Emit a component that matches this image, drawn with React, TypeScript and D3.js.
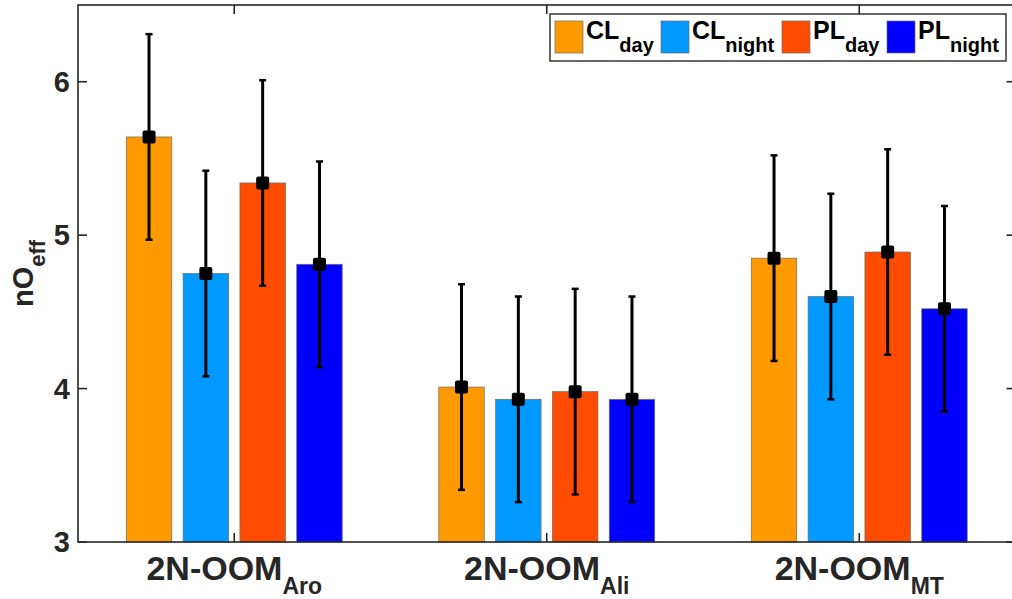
import React from "react";
import * as d3 from "d3";

const categories = ["Aro", "Ali", "MT"];
const seriesNames = [
  { main: "CL", sub: "day" },
  { main: "CL", sub: "night" },
  { main: "PL", sub: "day" },
  { main: "PL", sub: "night" },
];
const seriesColors = ["#FF9900", "#0099FF", "#FF4C00", "#0000FF"];
// means per series across categories
const clDay = [5.64, 4.01, 4.85];
const clNight = [4.75, 3.93, 4.60];
const plDay = [5.34, 3.98, 4.89];
const plNight = [4.81, 3.93, 4.52];
// error half-widths
const clDayErr = [0.67, 0.67, 0.67];
const clNightErr = [0.67, 0.67, 0.67];
const plDayErr = [0.67, 0.67, 0.67];
const plNightErr = [0.67, 0.67, 0.67];
const yTicks = [3, 4, 5, 6];

const means = [clDay, clNight, plDay, plNight];
const errs = [clDayErr, clNightErr, plDayErr, plNightErr];

const W = 1012;
const H = 599;
const L = 78;
const R = 1015.5;
const T = 5;
const B = 542;
const FONT = "'Liberation Sans', Arial, Helvetica, sans-serif";
const AX = "#262626";

export default function App() {
  const x = d3.scaleLinear().domain([0.5, 3.5]).range([L, R]);
  const y = d3.scaleLinear().domain([3, 6.5]).range([B, T]);
  const nS = seriesNames.length;
  const groupW = Math.min(0.8, nS / (nS + 1.5));
  const step = groupW / nS;
  const barW = step * 0.8;
  const tickLen = 9;

  const bars: JSX.Element[] = [];
  const errEls: JSX.Element[] = [];
  means.forEach((arr, s) => {
    arr.forEach((v, c) => {
      const cx = c + 1 + (s - (nS - 1) / 2) * step;
      const x0 = x(cx - barW / 2);
      const x1 = x(cx + barW / 2);
      bars.push(
        <rect
          key={`b${s}-${c}`}
          x={x0}
          y={y(v)}
          width={x1 - x0}
          height={y(3) - y(v)}
          fill={seriesColors[s]}
          stroke="#6b6b6b"
          strokeWidth={0.7}
        />
      );
      const e = errs[s][c];
      const px = x(cx);
      errEls.push(
        <g key={`e${s}-${c}`}>
          <line x1={px} x2={px} y1={y(v + e)} y2={y(v - e)} stroke="#000" strokeWidth={3} />
          <line x1={px - 3.5} x2={px + 3.5} y1={y(v + e)} y2={y(v + e)} stroke="#000" strokeWidth={2.5} />
          <line x1={px - 3.5} x2={px + 3.5} y1={y(v - e)} y2={y(v - e)} stroke="#000" strokeWidth={2.5} />
          <rect x={px - 6.5} y={y(v) - 6.5} width={13} height={13} rx={2} fill="#000" />
        </g>
      );
    });
  });

  const legendItems = [
    { sx: 555, tx: 586 },
    { sx: 661, tx: 692 },
    { sx: 782, tx: 813 },
    { sx: 887, tx: 918 },
  ];

  return (
    <svg
      width={W}
      height={H}
      style={{ position: "absolute", left: 0, top: 0, background: "#fff" }}
      fontFamily={FONT}
    >
      <rect x={0} y={0} width={W} height={H} fill="#fff" />
      {bars}
      {errEls}
      <rect x={L} y={T} width={R - L} height={B - T} fill="none" stroke={AX} strokeWidth={1.6} />
      {yTicks.map((t) => (
        <g key={`yt${t}`}>
          <line x1={L} x2={L + tickLen} y1={y(t)} y2={y(t)} stroke={AX} strokeWidth={1.6} />
          <line x1={R} x2={R - tickLen} y1={y(t)} y2={y(t)} stroke={AX} strokeWidth={1.6} />
          <text
            x={L - 8}
            y={y(t)}
            textAnchor="end"
            dominantBaseline="central"
            fontSize={29}
            fontWeight="bold"
            fill={AX}
          >
            {t}
          </text>
        </g>
      ))}
      {categories.map((c, i) => (
        <g key={`xt${c}`}>
          <line x1={x(i + 1)} x2={x(i + 1)} y1={B} y2={B - tickLen} stroke={AX} strokeWidth={1.6} />
          <line x1={x(i + 1)} x2={x(i + 1)} y1={T} y2={T + tickLen} stroke={AX} strokeWidth={1.6} />
          <text x={x(i + 1)} y={580} textAnchor="middle" fontSize={34} fontWeight="bold" fill={AX}>
            2N-OOM
            <tspan fontSize={23} dy={14}>
              {c}
            </tspan>
          </text>
        </g>
      ))}
      <text
        transform={`translate(33, ${(T + B) / 2}) rotate(-90)`}
        textAnchor="middle"
        fontSize={29}
        fontWeight="bold"
        fill={AX}
      >
        nO
        <tspan fontSize={22} dy={12}>
          eff
        </tspan>
      </text>
      <rect x={550} y={14} width={456} height={47} fill="#fff" stroke={AX} strokeWidth={1.4} />
      {seriesNames.map((s, i) => (
        <g key={`lg${i}`}>
          <rect
            x={legendItems[i].sx}
            y={21}
            width={28}
            height={32}
            fill={seriesColors[i]}
            stroke="#6b6b6b"
            strokeWidth={0.7}
          />
          <text x={legendItems[i].tx} y={39} fontSize={25} fontWeight="bold" fill="#000">
            {s.main}
            <tspan fontSize={20} dy={13}>
              {s.sub}
            </tspan>
          </text>
        </g>
      ))}
    </svg>
  );
}
